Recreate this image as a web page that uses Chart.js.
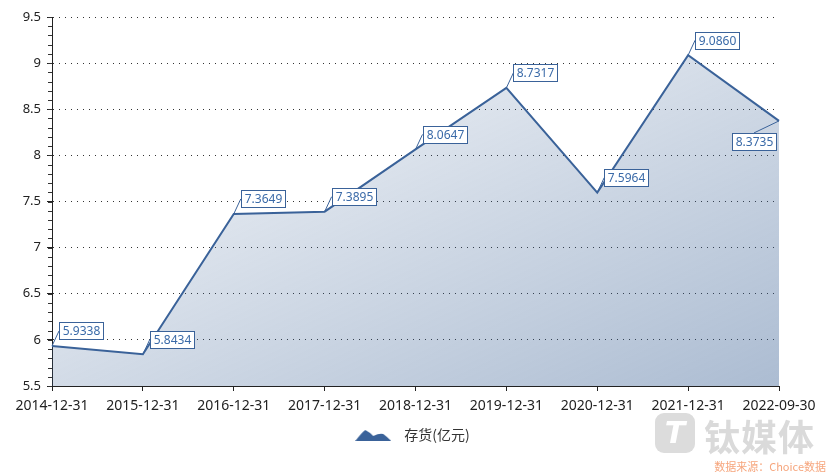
<!DOCTYPE html>
<html>
<head>
<meta charset="utf-8">
<script src="https://cdn.jsdelivr.net/npm/chart.js@4/dist/chart.umd.min.js"></script>
<style>
  html, body { margin: 0; padding: 0; background: #fff; }
  #wrap { position: relative; width: 831px; height: 474px; }
  #logo {
    position: absolute; left: 655px; top: 413px; width: 40px; height: 40px;
    background: #dcdcdc; border-radius: 9px;
    color: #fff; font: italic bold 30px "DejaVu Sans", sans-serif;
    text-align: center; line-height: 40px;
  }
  #brand {
    position: absolute; left: 704px; top: 409px;
    color: #dadada; font: bold 36px "Noto Sans CJK SC", sans-serif; letter-spacing: 1px;
  }
  #source {
    position: absolute; right: 5px; top: 458px;
    color: #f6a57c; font: 11px "Noto Sans CJK SC", sans-serif;
  }
</style>
</head>
<body>
<div id="wrap">
  <canvas id="inventoryChart" width="831" height="474"></canvas>
  <div id="logo">T</div>
  <div id="brand">钛媒体</div>
  <div id="source">数据来源：Choice数据</div>
</div>
<script>
const categories = ['2014-12-31', '2015-12-31', '2016-12-31', '2017-12-31', '2018-12-31',
                    '2019-12-31', '2020-12-31', '2021-12-31', '2022-09-30'];
const inventory = [5.9338, 5.8434, 7.3649, 7.3895, 8.0647, 8.7317, 7.5964, 9.0860, 8.3735];
const seriesName = '存货(亿元)';
const yMin = 5.5, yMax = 9.5, yStep = 0.5, yMinorStep = 0.1;

const lineColor = '#3a6299';

// 凡例用の山型アイコン
const legendIcon = document.createElement('canvas');
legendIcon.width = 36;
legendIcon.height = 12;
(function() {
    const c = legendIcon.getContext('2d');
    c.fillStyle = lineColor;
    c.beginPath();
    c.moveTo(0, 12);
    c.quadraticCurveTo(6, 4, 10, 1);
    c.quadraticCurveTo(14, 3, 18, 7);
    c.quadraticCurveTo(24, 4, 28, 5);
    c.quadraticCurveTo(32, 8, 36, 12);
    c.closePath();
    c.fill();
})();

// 背景のグラデーション（左上→右下、等色線は反対角線に平行）
const areaGradient = (context) => {
    const chart = context.chart;
    const area = chart.chartArea;
    if (!area) return 'rgba(57,96,148,0.2)';
    const top = chart.scales.y.getPixelForValue(Math.max(...inventory));
    const w = area.right - area.left;
    const h = area.bottom - top;
    const t = 2 * w * h / (w * w + h * h);
    const g = chart.ctx.createLinearGradient(area.left, top, area.left + t * h, top + t * w);
    g.addColorStop(0, 'rgba(57,96,148,0.03)');
    g.addColorStop(1, 'rgba(57,96,148,0.42)');
    return g;
};

// 補助目盛り
const minorTicks = {
    id: 'minorTicks',
    afterDraw(chart) {
        const y = chart.scales.y;
        const ctx = chart.ctx;
        ctx.save();
        ctx.strokeStyle = '#333';
        ctx.lineWidth = 1;
        const n = Math.round((yMax - yMin) / yMinorStep);
        for (let i = 0; i <= n; i++) {
            const py = Math.round(y.getPixelForValue(yMin + i * yMinorStep)) + 0.5;
            ctx.beginPath();
            ctx.moveTo(y.right - 4, py);
            ctx.lineTo(y.right, py);
            ctx.stroke();
        }
        ctx.restore();
    }
};

// 凡例の位置を少し右下へ
const legendShift = {
    id: 'legendShift',
    afterLayout(chart) {
        const lg = chart.legend;
        lg.left += 20; lg.right += 20;
        lg.top += 2; lg.bottom += 2;
    }
};

// 値ラベル（引き出し線付き）
const valueLabels = {
    id: 'valueLabels',
    afterDatasetsDraw(chart) {
        const ctx = chart.ctx;
        const meta = chart.getDatasetMeta(0);
        ctx.save();
        ctx.font = '12px "Noto Sans", sans-serif';
        ctx.textBaseline = 'middle';
        ctx.textAlign = 'center';
        meta.data.forEach((pt, i) => {
            const text = inventory[i].toFixed(4);
            const w = Math.round(ctx.measureText(text).width) + 6;
            const h = 17;
            let bx, by, lx, ly;
            if (i === meta.data.length - 1) {
                lx = pt.x - 25; ly = pt.y + 12;
                bx = lx - w / 2; by = ly;
            } else {
                lx = pt.x + 7; ly = pt.y - 15;
                bx = lx; by = ly - h / 2;
            }
            ctx.strokeStyle = lineColor;
            ctx.lineWidth = 1;
            ctx.beginPath();
            ctx.moveTo(pt.x, pt.y);
            ctx.lineTo(lx, ly);
            ctx.stroke();
            bx = Math.round(bx) + 0.5;
            by = Math.round(by) + 0.5;
            ctx.fillStyle = '#fff';
            ctx.fillRect(bx, by, w, h);
            ctx.strokeRect(bx, by, w, h);
            ctx.fillStyle = '#3a6aa8';
            ctx.fillText(text, bx + w / 2, by + h / 2 + 1);
        });
        ctx.restore();
    }
};

const ctx = document.getElementById('inventoryChart').getContext('2d');
new Chart(ctx, {
    type: 'line',
    data: {
        labels: categories,
        datasets: [{
            label: seriesName,
            data: inventory,
            borderColor: lineColor,
            borderWidth: 2,
            backgroundColor: areaGradient,
            fill: 'origin',
            tension: 0,
            pointRadius: 0,
            pointHoverRadius: 0,
            pointStyle: legendIcon
        }]
    },
    options: {
        responsive: false,
        animation: false,
        layout: { padding: { top: 17, right: 52, left: 0, bottom: 24 } },
        plugins: {
            legend: {
                position: 'bottom',
                labels: {
                    usePointStyle: true,
                    pointStyleWidth: 48,
                    padding: 10,
                    color: '#333',
                    font: { size: 14, family: '"Noto Sans CJK SC", sans-serif' }
                }
            },
            tooltip: { enabled: false }
        },
        scales: {
            x: {
                offset: false,
                afterFit(scale) { scale.height = 30; },
                grid: {
                    offset: false,
                    drawOnChartArea: false,
                    drawTicks: true,
                    tickLength: 5,
                    tickColor: '#222'
                },
                border: { color: '#222', width: 1 },
                ticks: {
                    color: '#222',
                    maxRotation: 0,
                    autoSkip: false,
                    padding: 7,
                    font: { size: 14, family: '"Noto Sans", sans-serif' }
                }
            },
            y: {
                min: yMin,
                max: yMax,
                afterFit(scale) { scale.width = 52; },
                grid: {
                    color: '#333',
                    lineWidth: 1,
                    tickLength: 5,
                    tickColor: '#222',
                    drawOnChartArea: true
                },
                border: { color: '#222', width: 1, dash: [1, 5] },
                ticks: {
                    stepSize: yStep,
                    color: '#222',
                    padding: 6,
                    font: { size: 13, family: '"Noto Sans", sans-serif' },
                    callback: (v) => String(+v.toFixed(1))
                }
            }
        }
    },
    plugins: [minorTicks, legendShift, valueLabels]
});
</script>
</body>
</html>
